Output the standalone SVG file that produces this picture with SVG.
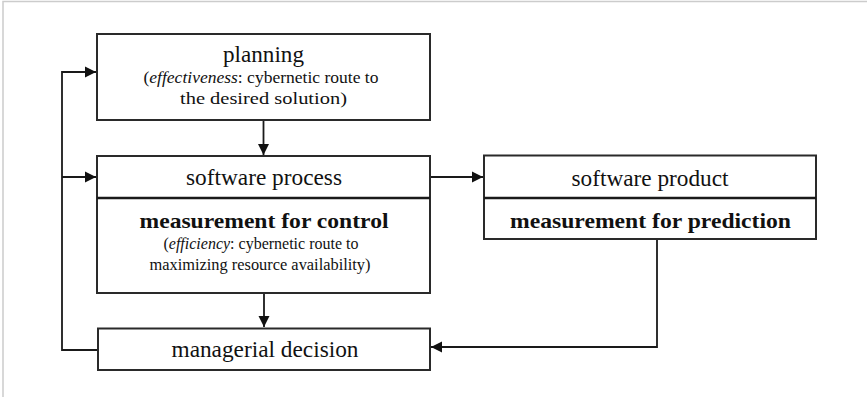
<svg xmlns="http://www.w3.org/2000/svg" width="867" height="397" viewBox="0 0 867 397">
  <style>
    .box { fill: #ffffff; stroke: #2a2a2a; stroke-width: 2; }
    .split { stroke: #1a1a1a; stroke-width: 2.5; }
    .wire { fill: none; stroke: #1a1a1a; stroke-width: 1.8; }
    text { font-family: "Liberation Serif", Tinos, "DejaVu Serif", serif; fill: #111; text-anchor: middle; }
    .title { font-size: 23px; }
    .strong { font-size: 22px; font-weight: bold; }
    .note { font-size: 17.5px; }
    .frame { stroke: #cccccc; stroke-width: 1.5; fill: none; }
  </style>
  <defs>
    <marker id="arrow" markerUnits="userSpaceOnUse" markerWidth="12" markerHeight="12" viewBox="0 0 12 12" refX="11" refY="6" orient="auto">
      <path d="M0,0.5 L11,6 L0,11.5 Z" fill="#111"/>
    </marker>
  </defs>

  <!-- page frame -->
  <path class="frame" d="M3,397 V1.5 H867"/>

  <!-- connectors -->
  <g id="connectors">
    <path class="wire" d="M263.5,120 V155" marker-end="url(#arrow)"/>
    <path class="wire" d="M264,293 V327" marker-end="url(#arrow)"/>
    <path class="wire" d="M430,177 H483" marker-end="url(#arrow)"/>
    <path class="wire" d="M657,239 V347 H431" marker-end="url(#arrow)"/>
    <path class="wire" d="M97,350 H62 V72 H96" marker-end="url(#arrow)"/>
    <path class="wire" d="M62,177 H96" marker-end="url(#arrow)"/>
  </g>

  <!-- planning -->
  <g id="planning">
    <rect class="box" x="97" y="34" width="333" height="86"/>
    <text class="title" x="263.5" y="62" textLength="81" lengthAdjust="spacingAndGlyphs">planning</text>
    <text class="note" x="261" y="83" textLength="235" lengthAdjust="spacingAndGlyphs">(<tspan font-style="italic">effectiveness</tspan>: cybernetic route to</text>
    <text class="note" x="263.5" y="104" textLength="167" lengthAdjust="spacingAndGlyphs">the desired solution)</text>
  </g>

  <!-- software process -->
  <g id="software-process">
    <rect class="box" x="97" y="156" width="333" height="137"/>
    <line class="split" x1="97" y1="198" x2="430" y2="198"/>
    <text class="title" x="264" y="185" textLength="156" lengthAdjust="spacingAndGlyphs">software process</text>
    <text class="strong" x="264" y="228" textLength="249" lengthAdjust="spacingAndGlyphs">measurement for control</text>
    <text class="note" x="261" y="249" textLength="195" lengthAdjust="spacingAndGlyphs">(<tspan font-style="italic">efficiency</tspan>: cybernetic route to</text>
    <text class="note" x="260" y="269.5" textLength="221" lengthAdjust="spacingAndGlyphs">maximizing resource availability)</text>
  </g>

  <!-- software product -->
  <g id="software-product">
    <rect class="box" x="484" y="155.5" width="332" height="83.5"/>
    <line class="split" x1="484" y1="198" x2="816" y2="198"/>
    <text class="title" x="650" y="186" textLength="157" lengthAdjust="spacingAndGlyphs">software product</text>
    <text class="strong" x="650.5" y="228" textLength="281" lengthAdjust="spacingAndGlyphs">measurement for prediction</text>
  </g>

  <!-- managerial decision -->
  <g id="managerial-decision">
    <rect class="box" x="98" y="328.5" width="332" height="41.5"/>
    <text class="title" x="265" y="357" textLength="187" lengthAdjust="spacingAndGlyphs">managerial decision</text>
  </g>
</svg>
